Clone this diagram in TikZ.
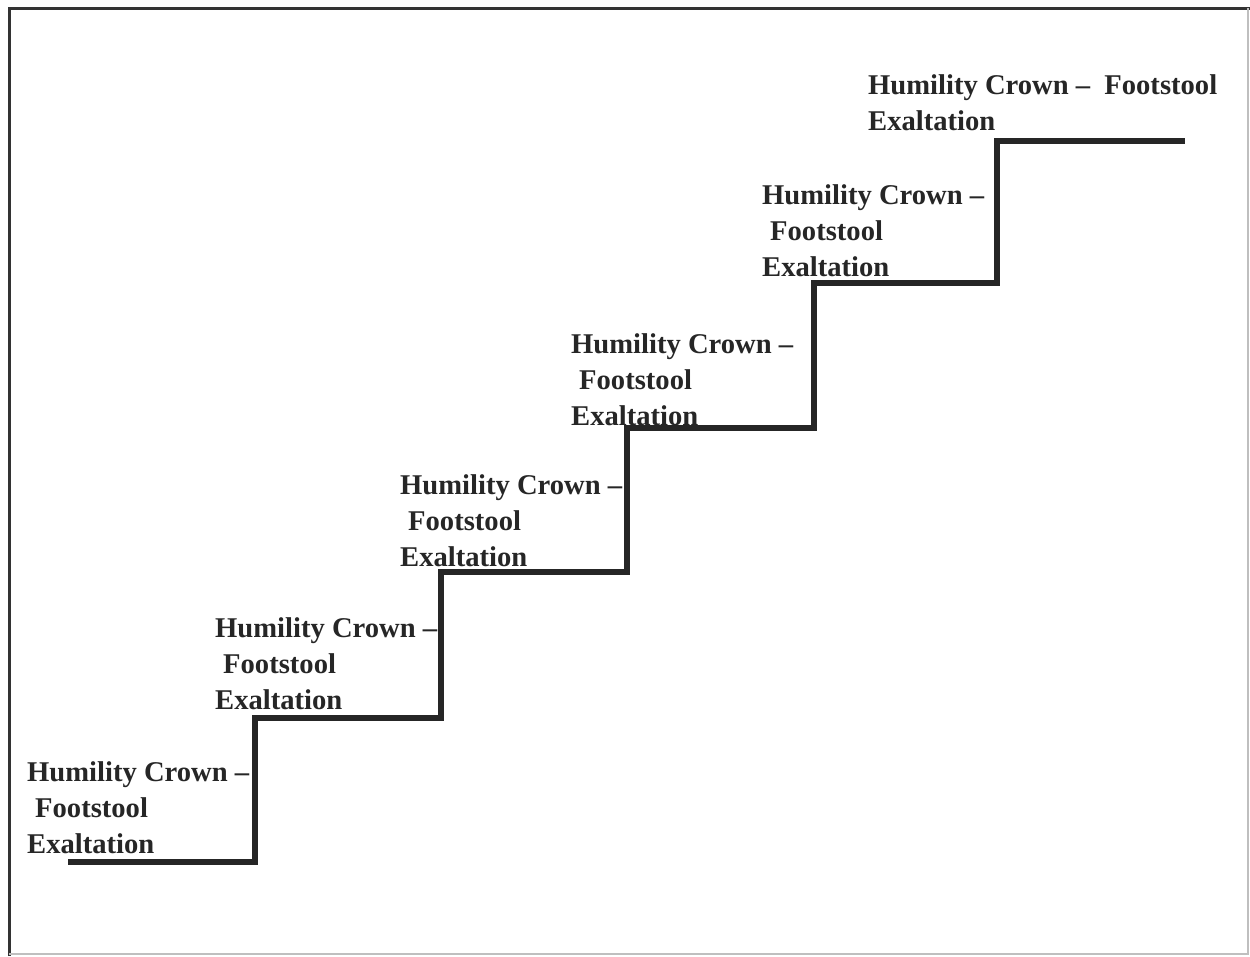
\documentclass[tikz,border=0pt]{standalone}
\usepackage{fontspec}
\setmainfont{Liberation Serif}

\begin{document}
\begin{tikzpicture}[x=1pt,y=-1pt,
  lbl/.style={anchor=north west,inner sep=0pt,align=left,
    font=\bfseries\fontsize{28.6}{36}\selectfont,text=black!85},
  stair/.style={line width=6pt,black!85}]
 \useasboundingbox (0,0) rectangle (1250,956);
 \fill[white] (0,0) rectangle (1250,956);
 % frame
 \draw[line width=3pt,black!80] (9,956) -- (9,8) -- (1250,8);
 \draw[line width=2pt,black!25] (1248,8) -- (1248,954) -- (9,954);

 \node[lbl] (s1) at (27,761)  {Humility Crown --\\\hspace{8pt}Footstool\\Exaltation};
 \node[lbl] (s2) at (215,617) {Humility Crown --\\\hspace{8pt}Footstool\\Exaltation};
 \node[lbl] (s3) at (400,474) {Humility Crown --\\\hspace{8pt}Footstool\\Exaltation};
 \node[lbl] (s4) at (571,333) {Humility Crown --\\\hspace{8pt}Footstool\\Exaltation};
 \node[lbl] (s5) at (762,184) {Humility Crown --\\\hspace{8pt}Footstool\\Exaltation};
 \node[lbl] (s6) at (868,74)  {Humility Crown --\ \ Footstool\\Exaltation};

 % the steps
 \draw[stair] (68,862) -| (255,718) -| (441,572) -| (627,428)
   -| (814,283) -| (997,141) -- (1185,141);
\end{tikzpicture}
\end{document}
